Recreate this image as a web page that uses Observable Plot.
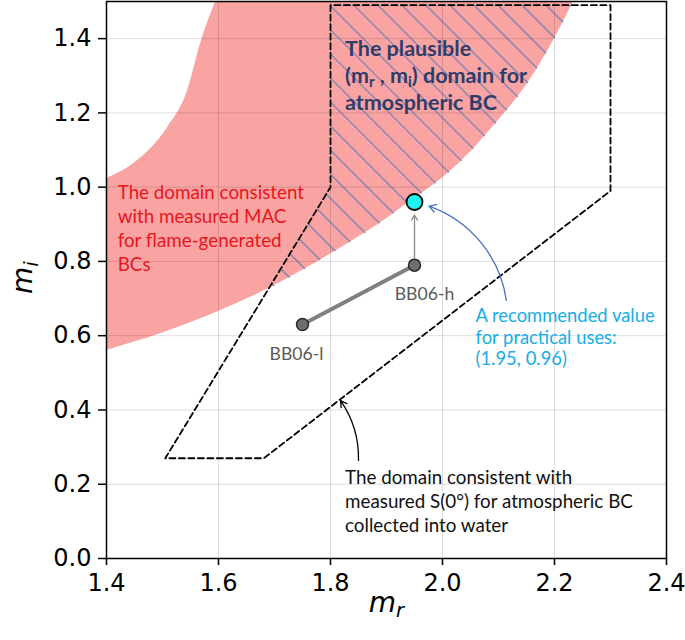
<!DOCTYPE html>
<html><head><meta charset="utf-8">
<script src="https://cdn.jsdelivr.net/npm/d3@7"></script>
<script src="https://cdn.jsdelivr.net/npm/@observablehq/plot@0.6"></script>
<style>body{margin:0;background:#fff}</style>
</head><body><div id="chart"></div>
<script>
// Domain consistent with measured MAC for flame-generated BCs (pink band)
const bandUpperMr = [1.40, 1.448, 1.509, 1.545, 1.568, 1.595];
const bandUpperMi = [1.023, 1.063, 1.16, 1.26, 1.387, 1.50];
const bandLowerMr = [1.40, 1.50, 1.60, 1.70, 1.80, 1.90, 1.95, 2.00, 2.05, 2.10, 2.15, 2.20, 2.234];
const bandLowerMi = [0.56, 0.607, 0.665, 0.735, 0.82, 0.915, 0.97, 1.025, 1.095, 1.18, 1.275, 1.40, 1.50];
// Domain consistent with measured S(0°) (dashed polygon)
const s0Mr = [1.80, 1.80, 1.505, 1.681, 2.30, 2.30, 1.80];
const s0Mi = [1.49, 1.00, 0.27, 0.27, 0.99, 1.49, 1.49];
// BB06 values
const bbNames = ["BB06-l", "BB06-h"];
const bbMr = [1.75, 1.95];
const bbMi = [0.63, 0.79];
// Recommended value
const recMr = 1.95;
const recMi = 0.96;
// Ticks
const xTicks = [1.4, 1.6, 1.8, 2.0, 2.2, 2.4];
const yTicks = [0.0, 0.2, 0.4, 0.6, 0.8, 1.0, 1.2, 1.4];
// Annotation texts
const macText = "The domain consistent\nwith measured MAC\nfor flame-generated\nBCs";
const plausibleText = "The plausible\n(m_{r} , m_{i}) domain for\natmospheric BC";
const recText = "A recommended value\nfor practical uses:\n(1.95, 0.96)";
const s0Text = "The domain consistent with\nmeasured S(0°) for atmospheric BC\ncollected into water";

const upper = bandUpperMr.map((x, i) => ({x, y: bandUpperMi[i]}));
const lower = bandLowerMr.map((x, i) => ({x, y: bandLowerMi[i]}));
const s0 = s0Mr.map((x, i) => ({x, y: s0Mi[i]}));
const bb = bbNames.map((name, i) => ({name, x: bbMr[i], y: bbMi[i]}));
const rec = [{x: recMr, y: recMi}];

const ann = "Lato, 'Open Sans', sans-serif";
const BAND = "#f9a3a3";
const yTop = 1.5;

const svg = Plot.plot({
  width: 685, height: 640,
  marginLeft: 106, marginRight: 19, marginTop: 1, marginBottom: 82,
  x: {domain: [1.4, 2.4]},
  y: {domain: [0, yTop]},
  style: {fontFamily: "'DejaVu Sans', sans-serif", background: "#fff", color: "#000"},
  marks: [
    Plot.areaY(lower, {x: "x", y1: "y", y2: () => yTop, fill: BAND, curve: "monotone-x", clip: true}),
    Plot.areaY(upper, {x: "x", y1: "y", y2: () => yTop, fill: "#ffffff", curve: "monotone-x", clip: true}),
    Plot.line(s0, {x: "x", y: "y", fill: "url(#hatch)", stroke: "none"}),
    Plot.gridX(xTicks, {stroke: "#000", strokeOpacity: 0.13, strokeWidth: 1}),
    Plot.gridY(yTicks, {stroke: "#000", strokeOpacity: 0.13, strokeWidth: 1}),
    Plot.line(s0, {x: "x", y: "y", stroke: "#000", strokeWidth: 1.8, strokeDasharray: "6,3.5"}),
    Plot.line(bb, {x: "x", y: "y", stroke: "#808080", strokeWidth: 4}),
    Plot.arrow([{x1: bbMr[1], y1: bbMi[1], x2: recMr, y2: recMi}], {x1: "x1", y1: "y1", x2: "x2", y2: "y2", stroke: "#8a8a8a", strokeWidth: 1.3, headLength: 7, insetStart: 7, insetEnd: 13}),
    Plot.dot(bb, {x: "x", y: "y", r: 6, fill: "#6e6e6e", stroke: "#2a2a2a", strokeWidth: 1.5}),
    Plot.dot(rec, {x: "x", y: "y", r: 8, fill: "#1ff2f2", stroke: "#000", strokeWidth: 1.8}),
    Plot.arrow([{x1: 2.114, y1: 0.695, x2: recMr, y2: recMi}], {x1: "x1", y1: "y1", x2: "x2", y2: "y2", bend: -35, stroke: "#4472c4", strokeWidth: 1.3, headLength: 9, insetEnd: 15}),
    Plot.arrow([{x1: 1.85, y1: 0.264, x2: 1.818, y2: 0.425}], {x1: "x1", y1: "y1", x2: "x2", y2: "y2", bend: -18, stroke: "#000", strokeWidth: 1.3, headLength: 8}),
    Plot.text([macText], {x: 1.42, y: 1.014, text: d => d, textAnchor: "start", lineAnchor: "top", fill: "#e8161d", fontSize: 18.8, lineHeight: 1.27, fontFamily: ann}),
    Plot.text([plausibleText], {x: 1.826, y: 1.406, text: d => d, textAnchor: "start", lineAnchor: "top", fill: "#2f3d6b", fontSize: 21.5, fontWeight: "bold", lineHeight: 1.265, fontFamily: ann}),
    Plot.text(rec, {x: "x", y: "y", text: () => recText, dx: 61, dy: 105, textAnchor: "start", lineAnchor: "top", fill: "#16ade6", fontSize: 18.4, lineHeight: 1.17, fontFamily: ann}),
    Plot.text([s0Text], {x: 1.826, y: 0.248, text: d => d, textAnchor: "start", lineAnchor: "top", fill: "#111", fontSize: 18.8, lineHeight: 1.28, fontFamily: ann}),
    Plot.text(bb.slice(1), {x: "x", y: "y", text: "name", dx: 10, dy: 22, lineAnchor: "top", fill: "#595959", fontSize: 17.6, fontFamily: ann}),
    Plot.text(bb.slice(0, 1), {x: "x", y: "y", text: "name", dx: -6, dy: 23, lineAnchor: "top", fill: "#595959", fontSize: 17.6, fontFamily: ann}),
    Plot.axisX(xTicks, {tickFormat: d3.format(".1f"), fontSize: 24, tickSize: 7, tickPadding: 8, strokeWidth: 1.5, label: null}),
    Plot.axisY(yTicks, {tickFormat: d3.format(".1f"), fontSize: 24, tickSize: 8, tickPadding: 7, strokeWidth: 1.5, label: null}),
    Plot.text(["m_{r}"], {frameAnchor: "bottom", text: d => d, dy: 53, fontSize: 28, fontStyle: "italic"}),
    Plot.text(["m_{i}"], {frameAnchor: "left", text: d => d, dx: -83, dy: 14, rotate: -90, fontSize: 28, fontStyle: "italic"}),
    Plot.frame({stroke: "#000", strokeWidth: 1.5})
  ]
});

const root = d3.select(svg);
const defs = root.insert("defs", ":first-child");
const pat = defs.append("pattern").attr("id", "hatch").attr("patternUnits", "userSpaceOnUse")
  .attr("width", 17).attr("height", 17).attr("patternTransform", "rotate(-45)");
pat.append("line").attr("x1", 8.5).attr("y1", -1).attr("x2", 8.5).attr("y2", 18)
  .attr("stroke", "#6f7db0").attr("stroke-width", 1.2);

function findPathByFill(fill) {
  const all = svg.querySelectorAll("[fill]");
  for (const el of all) {
    if (el.getAttribute("fill") === fill) {
      return el.tagName === "path" ? el : el.querySelector("path");
    }
  }
  return null;
}
const bandPath = findPathByFill(BAND);
const hatchPath = findPathByFill("url(#hatch)");
if (bandPath && hatchPath) {
  const cp = defs.append("clipPath").attr("id", "bandclip");
  cp.append("path").attr("d", bandPath.getAttribute("d"));
  hatchPath.setAttribute("clip-path", "url(#bandclip)");
}

// subscripts written as _{...}
root.selectAll("text, tspan").each(function() {
  if (this.children.length) return;
  const s = this.textContent;
  if (!s.includes("_{")) return;
  const parts = s.split(/(_\{[^}]*\})/).filter(p => p);
  this.textContent = "";
  let shifted = false;
  for (const p of parts) {
    const m = p.match(/^_\{([^}]*)\}$/);
    const t = d3.select(this).append("tspan");
    if (m) {
      t.text(m[1]).attr("font-size", "70%").attr("dy", "0.3em");
      shifted = true;
    } else {
      t.text(p);
      if (shifted) { t.attr("dy", "-0.21em"); shifted = false; }
    }
  }
});

document.getElementById("chart").appendChild(svg);
</script>
</body></html>
